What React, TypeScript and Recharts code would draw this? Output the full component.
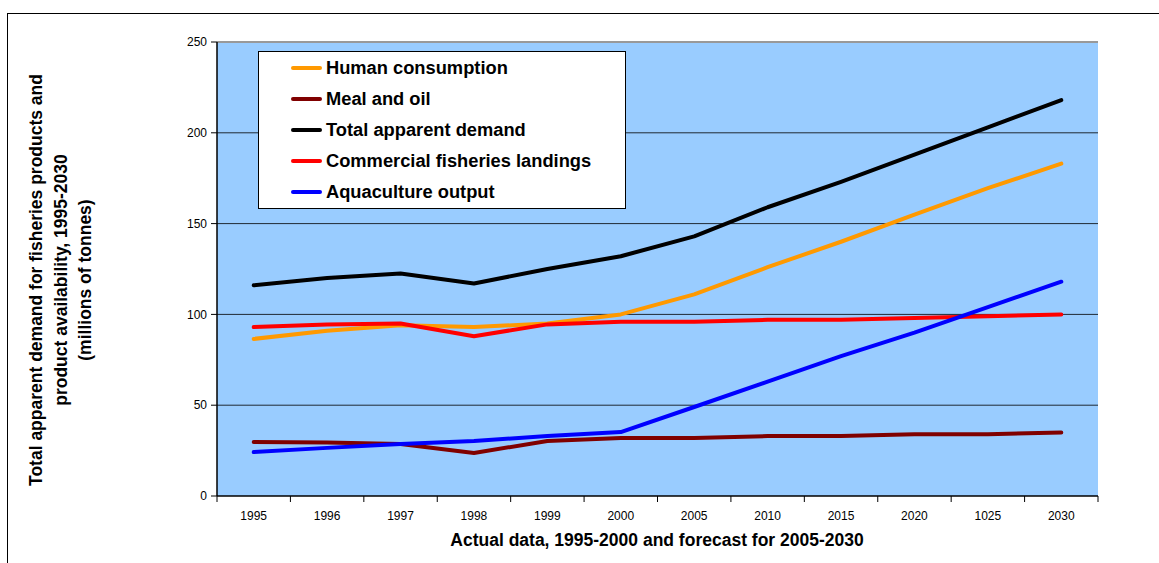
import {
  CartesianGrid,
  Line,
  LineChart,
  ReferenceLine,
  XAxis,
  YAxis,
} from "recharts";

const years = ["1995", "1996", "1997", "1998", "1999", "2000", "2005", "2010", "2015", "2020", "1025", "2030"];
const humanConsumption = [86.5, 91, 94, 93, 95, 100, 111, 126, 140, 155, 169.5, 183];
const mealAndOil = [29.7, 29.5, 28.6, 23.7, 30.3, 32, 32, 33, 33, 34, 34, 35];
const totalDemand = [116, 120, 122.5, 117, 125, 132, 143, 159, 173, 188, 203, 218];
const fisheriesLandings = [93, 94.5, 95, 88, 94.5, 96, 96, 97, 97, 98, 99, 100];
const aquacultureOutput = [24.2, 26.5, 28.6, 30.3, 33, 35.2, 49, 63, 77, 90, 104, 118];
const yTicks = [0, 50, 100, 150, 200, 250];

const series = [
  { key: "human", name: "Human consumption", color: "#FF9900" },
  { key: "meal", name: "Meal and oil", color: "#800000" },
  { key: "total", name: "Total apparent demand", color: "#000000" },
  { key: "landings", name: "Commercial fisheries landings", color: "#FF0000" },
  { key: "aqua", name: "Aquaculture output", color: "#0000FF" },
];

const data = years.map((year, i) => ({
  year,
  human: humanConsumption[i],
  meal: mealAndOil[i],
  total: totalDemand[i],
  landings: fisheriesLandings[i],
  aqua: aquacultureOutput[i],
}));

const FONT = "Arial, 'Liberation Sans', sans-serif";
const PLOT_LEFT = 217;
const PLOT_RIGHT = 1098;
const BAND = (PLOT_RIGHT - PLOT_LEFT) / years.length;

function YearTick(props: any) {
  const { x, y, payload, index } = props;
  const left = x - BAND / 2;
  return (
    <g>
      <line x1={left} y1={y} x2={left} y2={y + 6} stroke="#000" />
      {index === years.length - 1 && (
        <line x1={left + BAND} y1={y} x2={left + BAND} y2={y + 6} stroke="#000" />
      )}
      <text x={x} y={y + 24} textAnchor="middle" fontSize={12} fontFamily={FONT} fill="#000">
        {payload.value}
      </text>
    </g>
  );
}

function LegendBox() {
  return (
    <div
      style={{
        position: "absolute",
        left: 258,
        top: 51,
        width: 366,
        height: 155,
        border: "1px solid #000",
        background: "#fff",
        paddingTop: 1,
      }}
    >
      {series.map((s) => (
        <div
          key={s.key}
          style={{ display: "flex", alignItems: "center", height: 30.8, fontFamily: FONT }}
        >
          <div style={{ width: 31, height: 4, background: s.color, marginLeft: 32, marginRight: 4, borderRadius: 2 }} />
          <span style={{ fontSize: 18.3, fontWeight: "bold", color: "#000" }}>{s.name}</span>
        </div>
      ))}
    </div>
  );
}

export default function App() {
  return (
    <div style={{ position: "absolute", left: 0, top: 0, width: 1159, height: 563, background: "#fff", overflow: "hidden" }}>
      <div
        style={{
          position: "absolute",
          left: 7,
          top: 13,
          width: 1160,
          height: 560,
          borderLeft: "1px solid #000",
          borderTop: "1px solid #000",
        }}
      />
      <LineChart
        width={1159}
        height={563}
        data={data}
        margin={{ top: 42, left: PLOT_LEFT - 60, right: 1159 - PLOT_RIGHT, bottom: 37 }}
        style={{ position: "absolute", left: 0, top: 0 }}
      >
        <CartesianGrid
          vertical={false}
          fill="#99CCFF"
          fillOpacity={1}
          stroke="#000"
          strokeOpacity={0.8}
          horizontalValues={[50, 100, 150, 200]}
        />
        <XAxis
          dataKey="year"
          height={30}
          interval={0}
          padding={{ left: BAND / 2, right: BAND / 2 }}
          tickLine={false}
          tickSize={0}
          tickMargin={0}
          axisLine={{ stroke: "#000", strokeWidth: 1.5 }}
          tick={<YearTick />}
        />
        <YAxis
          width={60}
          domain={[0, 250]}
          ticks={yTicks}
          interval={0}
          tickSize={6}
          tickMargin={4}
          axisLine={{ stroke: "#000", strokeWidth: 1.5 }}
          tickLine={{ stroke: "#000" }}
          tick={{ fontSize: 12, fill: "#000", fontFamily: FONT }}
        />
        <YAxis
          yAxisId="right"
          orientation="right"
          width={0}
          domain={[0, 250]}
          tick={false}
          tickLine={false}
          axisLine={{ stroke: "#888", strokeWidth: 2 }}
        />
        <ReferenceLine y={250} stroke="#999" strokeWidth={2} />
        {series.map((s) => (
          <Line
            key={s.key}
            type="linear"
            dataKey={s.key}
            name={s.name}
            stroke={s.color}
            strokeWidth={4}
            strokeLinecap="round"
            strokeLinejoin="round"
            dot={false}
            activeDot={false}
            isAnimationActive={false}
          />
        ))}
      </LineChart>
      <LegendBox />
      <div
        style={{
          position: "absolute",
          left: 61 - 260,
          top: 280 - 37,
          width: 520,
          height: 74,
          transform: "rotate(-90deg)",
          textAlign: "center",
          fontFamily: FONT,
          fontWeight: "bold",
          fontSize: 17.5,
          lineHeight: "24.5px",
          color: "#000",
        }}
      >
        Total apparent demand for fisheries products and
        <br />
        product availability, 1995-2030
        <br />
        (millions of tonnes)
      </div>
      <div
        style={{
          position: "absolute",
          left: 357,
          top: 530,
          width: 600,
          textAlign: "center",
          fontFamily: FONT,
          fontWeight: "bold",
          fontSize: 17.5,
          color: "#000",
        }}
      >
        Actual data, 1995-2000 and forecast for 2005-2030
      </div>
    </div>
  );
}
